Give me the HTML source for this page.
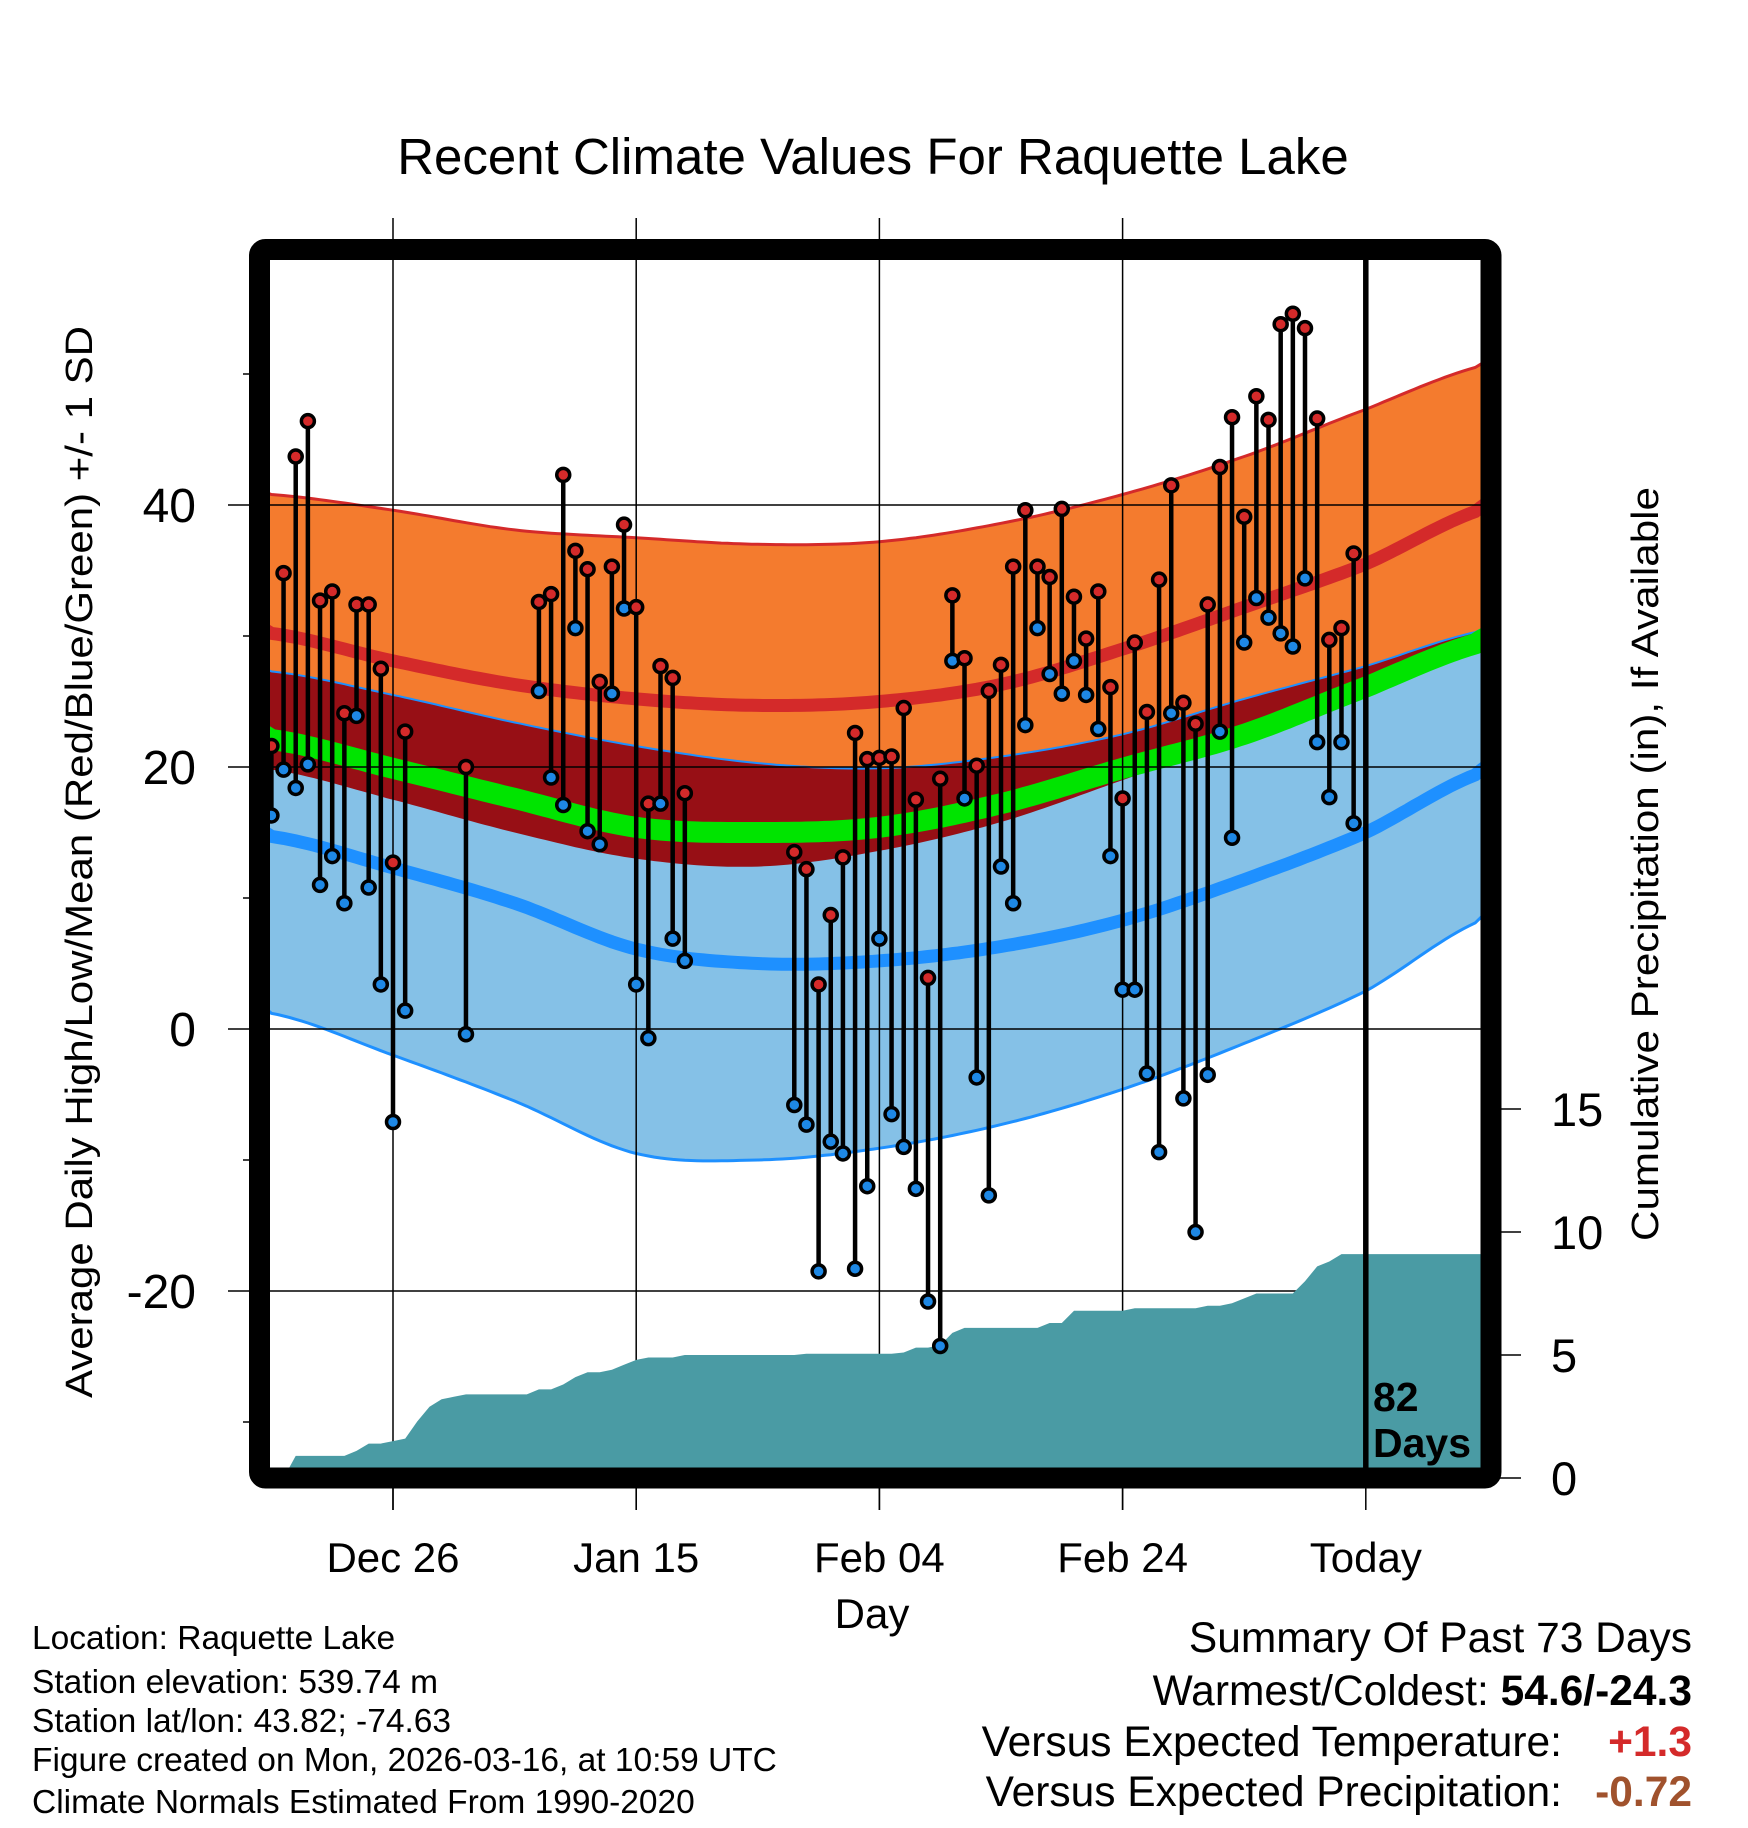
<!DOCTYPE html>
<html><head><meta charset="utf-8"><style>
html,body{margin:0;padding:0;background:#fff;}
svg{display:block;font-family:"Liberation Sans",sans-serif;}
</style></head><body>
<svg id="chart" width="1748" height="1828" viewBox="0 0 1748 1828" xmlns="http://www.w3.org/2000/svg">
<defs><clipPath id="plotclip"><rect x="270" y="260" width="1211" height="1208"/></clipPath></defs>
<text x="873" y="174" font-size="51" text-anchor="middle">Recent Climate Values For Raquette Lake</text>
<g id="bands" clip-path="url(#plotclip)"></g>
<g id="grid"></g>
<g id="precip" clip-path="url(#plotclip)"></g>
<g id="marks" clip-path="url(#plotclip)"></g>
<rect x="259.5" y="249.5" width="1231.5" height="1228.5" rx="6" fill="none" stroke="#000" stroke-width="21"/>
<g id="axes"></g>
<text transform="translate(92,862) rotate(-90)" font-size="38" text-anchor="middle" textLength="1072" lengthAdjust="spacingAndGlyphs">Average Daily High/Low/Mean (Red/Blue/Green) +/- 1 SD</text>
<text transform="translate(1658,864) rotate(-90)" font-size="38" text-anchor="middle" textLength="754" lengthAdjust="spacingAndGlyphs">Cumulative Precipitation (in), If Available</text>
<text x="872" y="1628" font-size="42" text-anchor="middle">Day</text>
<text font-size="41" font-weight="bold"><tspan x="1373" y="1411">82</tspan><tspan x="1373" y="1457">Days</tspan></text>
<g font-size="33.5">
<text x="32" y="1649">Location: Raquette Lake</text>
<text x="32" y="1693">Station elevation: 539.74 m</text>
<text x="32" y="1732">Station lat/lon: 43.82; -74.63</text>
<text x="32" y="1771">Figure created on Mon, 2026-03-16, at 10:59 UTC</text>
<text x="32" y="1813">Climate Normals Estimated From 1990-2020</text>
</g>
<g font-size="42.5">
<text x="1692" y="1652" text-anchor="end">Summary Of Past 73 Days</text>
<text x="1692" y="1705" text-anchor="end">Warmest/Coldest: <tspan font-weight="bold">54.6/-24.3</tspan></text>
<text x="1562" y="1756" text-anchor="end">Versus Expected Temperature:</text>
<text x="1692" y="1756" text-anchor="end" font-weight="bold" fill="#d42a2a">+1.3</text>
<text x="1562" y="1806" text-anchor="end">Versus Expected Precipitation:</text>
<text x="1692" y="1806" text-anchor="end" font-weight="bold" fill="#a0522d">-0.72</text>
</g>
</svg>
<script>
// Data (days relative to Dec 26)
const obsDays = [-10,-9,-8,-7,-6,-5,-4,-3,-2,-1,0,1,6,12,13,14,15,16,17,18,19,20,21,22,23,24,33,34,35,36,37,38,39,40,41,42,43,44,45,46,47,48,49,50,51,52,53,54,55,56,57,58,59,60,61,62,63,64,65,66,67,68,69,70,71,72,73,74,75,76,77,78,79];
const highs = [21.6,34.8,43.7,46.4,32.7,33.4,24.1,32.4,32.4,27.5,12.7,22.7,20.0,32.6,33.2,42.3,36.5,35.1,26.5,35.3,38.5,32.2,17.2,27.7,26.8,18.0,13.5,12.2,3.4,8.7,13.1,22.6,20.6,20.7,20.8,24.5,17.5,3.9,19.1,33.1,28.3,20.1,25.8,27.8,35.3,39.6,35.3,34.5,39.7,33.0,29.8,33.4,26.1,17.6,29.5,24.2,34.3,41.5,24.9,23.3,32.4,42.9,46.7,39.1,48.3,46.5,53.8,54.6,53.5,46.6,29.7,30.6,36.3];
const lows = [16.3,19.8,18.4,20.2,11.0,13.2,9.6,23.9,10.8,3.4,-7.1,1.4,-0.4,25.8,19.2,17.1,30.6,15.1,14.1,25.6,32.1,3.4,-0.7,17.2,6.9,5.2,-5.8,-7.3,-18.5,-8.6,-9.5,-18.3,-12.0,6.9,-6.5,-9.0,-12.2,-20.8,-24.2,28.1,17.6,-3.7,-12.7,12.4,9.6,23.2,30.6,27.1,25.6,28.1,25.5,22.9,13.2,3.0,3.0,-3.4,-9.4,24.1,-5.3,-15.5,-3.5,22.7,14.6,29.5,32.9,31.4,30.2,29.2,34.4,21.9,17.7,21.9,15.7];
const normDays = [-11,-10,0,10,20,30,40,50,60,70,80,89,93];
const normHighTop = [41.0,40.8,39.6,38.1,37.5,37.0,37.2,38.6,40.8,43.7,47.3,50.5,52.0];
const normHigh = [30.5,30.2,28.1,26.3,25.2,24.7,25.0,26.3,29.0,32.2,35.5,39.5,41.5];
const normHighBot = [20.1,19.8,17.5,15.0,13.0,12.4,13.6,15.8,19.0,22.3,26.0,29.5,31.2];
const normLowTop = [27.5,27.3,25.5,23.4,21.6,20.3,19.9,20.8,22.5,25.2,27.7,30.3,31.5];
const normLow = [15.0,14.7,12.3,9.6,6.1,5.0,5.2,6.3,8.3,11.4,15.0,19.4,21.5];
const normLowBot = [1.6,1.2,-2.0,-5.5,-9.5,-10.0,-9.1,-7.3,-4.6,-1.1,2.9,8.1,10.5];
const normMean = [22.4,22.1,19.9,17.6,15.4,15.0,15.4,17.2,19.9,22.5,26.1,29.4,31.0];
const precipStart = -9;
const precipCum = [0,0.9,0.9,0.9,0.9,0.9,1.1,1.4,1.4,1.5,1.6,2.3,2.9,3.2,3.3,3.4,3.4,3.4,3.4,3.4,3.4,3.6,3.6,3.8,4.1,4.3,4.3,4.4,4.6,4.8,4.9,4.9,4.9,5.0,5.0,5.0,5.0,5.0,5.0,5.0,5.0,5.0,5.0,5.05,5.05,5.05,5.05,5.05,5.05,5.05,5.05,5.1,5.3,5.3,5.4,5.9,6.1,6.1,6.1,6.1,6.1,6.1,6.1,6.3,6.3,6.8,6.8,6.8,6.8,6.8,6.9,6.9,6.9,6.9,6.9,6.9,7.0,7.0,7.1,7.3,7.5,7.5,7.5,7.5,8.0,8.6,8.8,9.1,9.1,9.1,9.1,9.1,9.1,9.1,9.1,9.1,9.1,9.1,9.1,9.1];
const dateTicks = [0,20,40,60,80];
const dateLabels = ["Dec 26","Jan 15","Feb 04","Feb 24","Today"];
const tempTicks = [-30,-20,-10,0,10,20,30,40,50];
const tempLabels = ["-20","0","20","40"];
const tempLabelVals = [-20,0,20,40];
const precipTicks = [0,5,10,15];
const todayDay = 80;

const NS = "http://www.w3.org/2000/svg";
const X = d => 393 + d*12.16;
const Y = t => 1029 - t*13.1;
const PY = p => 1478 - p*24.6;
function mk(tag, attrs, parent){const e=document.createElementNS(NS,tag);for(const k in attrs)e.setAttribute(k,attrs[k]);parent.appendChild(e);return e;}
function interp(arr, d){
  let i=0; while(i<normDays.length-2 && d>normDays[i+1]) i++;
  const x0=normDays[i],x1=normDays[i+1];const t=(d-x0)/(x1-x0);
  const p0=arr[Math.max(0,i-1)],p1=arr[i],p2=arr[i+1],p3=arr[Math.min(arr.length-1,i+2)];
  return 0.5*((2*p1)+(-p0+p2)*t+(2*p0-5*p1+4*p2-p3)*t*t+(-p0+3*p1-3*p2+p3)*t*t*t);
}
const samp=[];for(let d=-11;d<=93;d+=0.5)samp.push(d);
const line = f => samp.map(d=>X(d).toFixed(1)+","+Y(f(d)).toFixed(1)).join(" L");
const band = (fa,fb) => "M"+line(fa)+" L"+samp.slice().reverse().map(d=>X(d).toFixed(1)+","+Y(fb(d)).toFixed(1)).join(" L")+"Z";
const hTop=d=>interp(normHighTop,d), hMean=d=>interp(normHigh,d), hBot=d=>interp(normHighBot,d);
const lTop=d=>interp(normLowTop,d), lMean=d=>interp(normLow,d), lBot=d=>interp(normLowBot,d);
const bands=document.getElementById('bands');
let e;
e=mk('path',{d:band(hTop,hBot),fill:'#f47b2e'},bands);


e=mk('path',{d:band(lTop,lBot),fill:'#85c1e7'},bands);


e=mk('path',{d:band(lTop,d=>Math.min(lTop(d),hBot(d))),fill:'#970f15'},bands);


e=mk('path',{d:"M"+line(hTop),fill:'none',stroke:'#d42a2a','stroke-width':3},bands);


e=mk('path',{d:"M"+line(lTop),fill:'none',stroke:'#1e90ff','stroke-width':2},bands);


e=mk('path',{d:"M"+line(lBot),fill:'none',stroke:'#1e90ff','stroke-width':3},bands);


e=mk('path',{d:"M"+line(hMean),fill:'none',stroke:'#d42a2a','stroke-width':13},bands);


e=mk('path',{d:"M"+line(d=>interp(normMean,d)),fill:'none',stroke:'#00e400','stroke-width':21},bands);


e=mk('path',{d:"M"+line(lMean),fill:'none',stroke:'#1e90ff','stroke-width':13},bands);



const grid=document.getElementById('grid');
dateTicks.forEach(d=>{ if(d===todayDay) return;
  e=mk('line',{x1:X(d),x2:X(d),y1:218,y2:1510,stroke:'#000','stroke-width':1.5},grid);
  
  
});
tempLabelVals.forEach(t=>{
  e=mk('line',{x1:228,x2:1500,y1:Y(t),y2:Y(t),stroke:'#000','stroke-width':1.5},grid);
  
  
});
tempTicks.forEach(t=>{ if(tempLabelVals.includes(t)) return;
  e=mk('line',{x1:243,x2:250,y1:Y(t),y2:Y(t),stroke:'#000','stroke-width':1.5},grid);
  
  
});

const pr=document.getElementById('precip');
let pd="M"+X(precipStart)+","+PY(0);
precipCum.forEach((p,i)=>{pd+=" L"+X(precipStart+i).toFixed(1)+","+PY(p).toFixed(1);});
pd+=" L"+X(precipStart+precipCum.length-1)+","+PY(0)+"Z";
e=mk('path',{d:pd,fill:'#4a9ba4'},pr);



const mg=document.getElementById('marks');
e=mk('line',{x1:X(todayDay),x2:X(todayDay),y1:250,y2:1478,stroke:'#000','stroke-width':5.5},mg);


obsDays.forEach((d,i)=>{
  e=mk('line',{x1:X(d),x2:X(d),y1:Y(highs[i]),y2:Y(lows[i]),stroke:'#000','stroke-width':4.5},mg);
  
  
});
obsDays.forEach((d,i)=>{
  e=mk('circle',{cx:X(d),cy:Y(highs[i]),r:6.5,fill:'#d42a2a',stroke:'#000','stroke-width':3.5},mg);
  
  
  e=mk('circle',{cx:X(d),cy:Y(lows[i]),r:6.5,fill:'#1e88e5',stroke:'#000','stroke-width':3.5},mg);
  
  
});

const ax=document.getElementById('axes');
dateTicks.forEach((d,i)=>{
  e=mk('line',{x1:X(d),x2:X(d),y1:1488,y2:1510,stroke:'#000','stroke-width':1.5},ax);
  
  
  e=mk('text',{x:X(d),y:1572,'font-size':42,'text-anchor':'middle'},ax);
  e.textContent=dateLabels[i];
  
  
});
tempLabelVals.forEach((t,i)=>{
  e=mk('text',{x:196,y:Y(t)+17,'font-size':48,'text-anchor':'end'},ax);
  e.textContent=tempLabels[i];
  
  
});
precipTicks.forEach(p=>{
  e=mk('line',{x1:1500,x2:1521,y1:PY(p),y2:PY(p),stroke:'#000','stroke-width':1.5},ax);
  
  
  e=mk('text',{x:1551,y:PY(p)+17,'font-size':47},ax);
  e.textContent=String(p);
  
  
});
</script>
</body></html>
